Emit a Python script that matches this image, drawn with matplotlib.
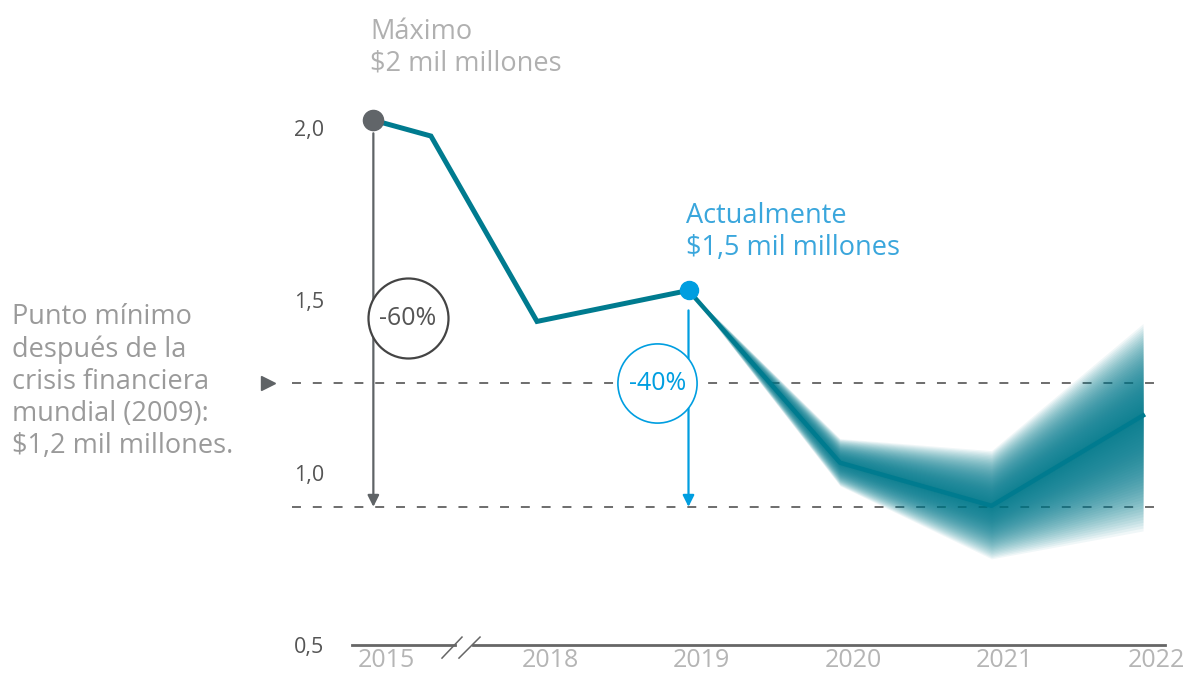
import numpy as np
import matplotlib
matplotlib.use("Agg")
import matplotlib.pyplot as plt
from matplotlib.transforms import ScaledTranslation

plt.rcParams['font.family'] = ['Open Sans', 'DejaVu Sans']

# ejes
year_labels = ['2015', '2018', '2019', '2020', '2021', '2022']
year_pos = [1.92, 3, 4, 5, 6, 7]
y_ticks = [0.5, 1.0, 1.5, 2.0]
y_labels = ['0,5', '1,0', '1,5', '2,0']

# serie historica
hist_x = [1.92, 2.30, 3, 4]
hist_y = [2.023, 1.977, 1.439, 1.529]

# proyeccion (linea central y banda)
proj_x = [4, 5, 6, 7]
proj_mid = [1.529, 1.029, 0.904, 1.166]
proj_hi = [1.529, 1.099, 1.064, 1.433]
proj_lo = [1.529, 0.962, 0.750, 0.831]

# referencias
crisis_min = 1.259
floor_level = 0.901

teal = '#007b8f'
grey_dot = '#616569'
blue = '#009ee0'

fig = plt.figure(figsize=(11.91, 6.83), dpi=100)
W, H = 1191, 683
ax = fig.add_axes([352 / W, 38 / H, 813 / W, (645 - 59.2) / H])
ax.set_xlim(1.779, 7.145)
ax.set_ylim(0.5, 2.2)
for s in ax.spines.values():
    s.set_visible(False)

# banda de proyeccion (degradado con capas)
mid = np.array(proj_mid)
hi = np.array(proj_hi)
lo = np.array(proj_lo)
n = 40
for k in range(n, 0, -1):
    f = k / n
    ax.fill_between(proj_x, mid - f * (mid - lo), mid + f * (hi - mid),
                    color=teal, alpha=0.06, lw=0, zorder=2)

ax.plot(proj_x, proj_mid, color=teal, lw=3.2, zorder=3)
ax.plot(hist_x, hist_y, color=teal, lw=3.6, zorder=4, solid_joinstyle='miter')

# lineas de referencia
ytr = ax.get_yaxis_transform()
dash = (0, (4.6, 6.1))
for lvl in [crisis_min, floor_level]:
    ax.plot([-0.074, 1.0], [lvl, lvl], transform=ytr, color='#6d6d6d', lw=1.4,
            linestyle=dash, clip_on=False, zorder=1)
ax.plot([-0.103], [crisis_min], transform=ytr, marker='>', color='#5f6366',
        markersize=10, clip_on=False, linestyle='none')

# flechas
ax.annotate('', xy=(hist_x[0], floor_level), xytext=(hist_x[0], 1.985),
            arrowprops=dict(arrowstyle='-|>', color='#5f6366', lw=1.6,
                            mutation_scale=17, shrinkA=0, shrinkB=0), zorder=2)
ax.annotate('', xy=(hist_x[3], floor_level), xytext=(hist_x[3], 1.471),
            arrowprops=dict(arrowstyle='-|>', color=blue, lw=1.6,
                            mutation_scale=17, shrinkA=0, shrinkB=0), zorder=2)

# circulos de variacion
ax.scatter([2.148], [1.448], s=3318, facecolor='white', edgecolor='#444444',
           linewidth=1.6, zorder=5)
ax.text(2.148, 1.448, '-60%', ha='center', va='center', fontsize=18,
        color='#555555', zorder=6)
ax.scatter([3.795], [crisis_min], s=3250, facecolor='white', edgecolor=blue,
           linewidth=1.2, zorder=5)
ax.text(3.795, crisis_min, '-40%', ha='center', va='center', fontsize=18,
        color=blue, zorder=6)

# puntos
ax.plot(hist_x[0], hist_y[0], 'o', color=grey_dot, markersize=14.5, zorder=7)
ax.plot(hist_x[3], hist_y[3], 'o', color=blue, markersize=13, zorder=7)

# eje x con corte
ax.plot([1.779, 2.459], [0.5, 0.5], color='#666666', lw=2, clip_on=False)
ax.plot([2.578, 7.145], [0.5, 0.5], color='#666666', lw=2, clip_on=False)
ax.plot([2.373, 2.505], [0.462, 0.523], color='#666666', lw=1.1, clip_on=False)
ax.plot([2.485, 2.624], [0.462, 0.523], color='#666666', lw=1.1, clip_on=False)

ax.set_xticks(year_pos)
ax.set_xticklabels(year_labels, fontsize=18, color='#b5b5b5')
ax.set_yticks(y_ticks)
ax.set_yticklabels(y_labels, fontsize=15.5, color='#555555')
ax.tick_params(axis='x', length=0, pad=2)
ax.tick_params(axis='y', length=0, pad=20)
shift = ScaledTranslation(13 / 100, 0, fig.dpi_scale_trans)
for lab in ax.get_xticklabels():
    lab.set_transform(lab.get_transform() + shift)

# textos
fig.text(370 / W, 1 - 18 / H, 'Máximo\n$2 mil millones', ha='left', va='top',
         fontsize=19.5, color='#b0b0b0', linespacing=1.17)
fig.text(686 / W, 1 - 202 / H, 'Actualmente\n$1,5 mil millones', ha='left',
         va='top', fontsize=19.5, color='#3aa6dc', linespacing=1.2)
fig.text(12 / W, 1 - 303 / H,
         'Punto mínimo\ndespués de la\ncrisis financiera\nmundial (2009):\n$1,2 mil millones.',
         ha='left', va='top', fontsize=19.5, color='#9a9a9a', linespacing=1.2)

fig.savefig('out.png', dpi=100)
